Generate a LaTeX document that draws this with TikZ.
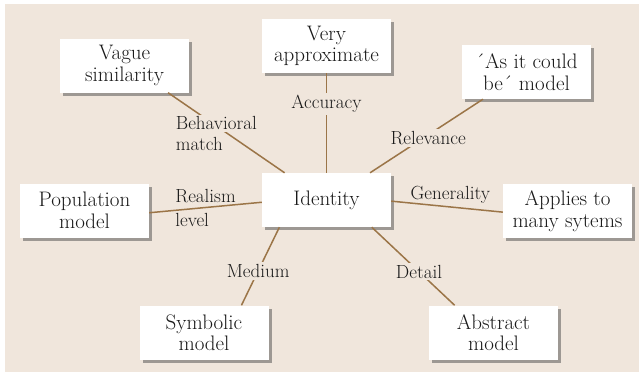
\documentclass[tikz,border=0pt]{standalone}
\usetikzlibrary{shadows,positioning}
\definecolor{paper}{RGB}{240,230,220}
\definecolor{rope}{RGB}{155,117,72}
\definecolor{ink}{RGB}{25,25,25}
\setlength{\fboxsep}{2pt}

\begin{document}
\begin{tikzpicture}[x=1pt, y=-1pt,
  facet/.style={fill=white, text=ink, align=center, inner sep=0pt,
    minimum width=129pt, minimum height=54pt,
    font=\fontsize{21}{21.5}\selectfont,
    drop shadow={shadow xshift=3pt, shadow yshift=-3pt, fill=black!70, opacity=0.5}},
  axis/.style={draw=rope, line width=1.5pt},
  tag/.style={fill=paper, text=ink, inner sep=2pt, font=\fontsize{19}{21}\selectfont},
  freetag/.style={text=ink, inner sep=0pt, align=left, font=\fontsize{19}{21}\selectfont}]

  % The background sheet
  \useasboundingbox (0,0) rectangle (639,372);
  \fill[paper] (5,4) rectangle (639,372);

  % The centre and the boxes round it
  \node[facet] (id) at (326.5,200) {Identity};
  \node[facet] (vs) at (124.5,65.5) {Vague\\similarity};
  \node[facet] (va) at (326.5,46) {Very\\approximate};
  \node[facet] (ac) at (526.5,72) {\'{}As it could\\be\'{} model};
  \node[facet] (pop) at (84.5,210.5) {Population\\model};
  \node[facet] (ap) at (567.5,211) {Applies to\\many sytems};
  \node[facet] (sym) at (204,332.5) {Symbolic\\model};
  \node[facet] (ab) at (493.5,332.5) {Abstract\\model};

  % Spokes with their labels
  \draw[axis] (id.147) -- node[freetag, pos=0.5, xshift=-10pt] {\colorbox{paper}{Behavioral}\\\hspace{2pt}match} (vs.-32);
  \draw[axis] (id.north) -- node[tag, pos=0.69] {Accuracy} (va.south);
  \draw[axis] (id.32) -- node[tag, pos=0.47, xshift=5pt] {Relevance} (ac.212);
  \draw[axis] (id.182) -- node[freetag, pos=0.5, font=\fontsize{19}{24}\selectfont] {Realism\\level} (pop.-2);
  \draw[axis] (id.-1) -- node[freetag, pos=0.53, yshift=12pt] {Generality} (ap.181);
  \draw[axis] (id.-150) -- node[tag, pos=0.56] {Medium} (sym.36);
  \draw[axis] (id.-31) -- node[tag, pos=0.57] {Detail} (ab.145);

\end{tikzpicture}
\end{document}
